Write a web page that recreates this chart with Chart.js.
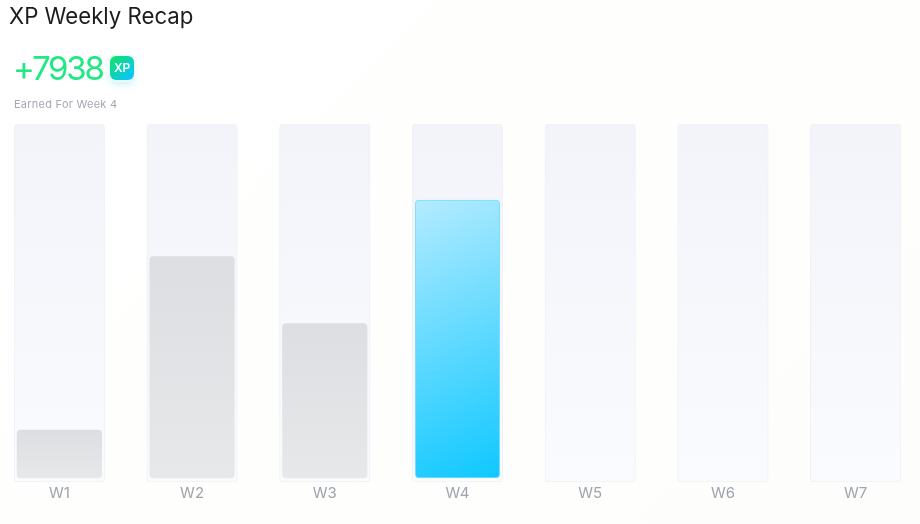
<!DOCTYPE html>
<html>
<head>
<meta charset="utf-8">
<title>XP Weekly Recap</title>
<script src="https://cdn.jsdelivr.net/npm/chart.js@4"></script>
<style>
  html, body { margin: 0; padding: 0; }
  body {
    width: 920px; height: 524px; position: relative; overflow: hidden;
    background: linear-gradient(135deg, #ffffff 0%, #fefefd 60%, #fdfefb 100%);
    font-family: Inter, "Noto Sans", sans-serif;
  }
  #title { position: absolute; left: 9px; top: 2px; font-size: 22.2px; line-height: 27px; color: #1b1c20; font-weight: 400; }
  #total { position: absolute; left: 13px; top: 48px; font-size: 33px; line-height: 40px; color: #1fe885; letter-spacing: -2.2px; font-weight: 400; }
  #badge {
    position: absolute; left: 110px; top: 56px; width: 24px; height: 24px; border-radius: 6px;
    background: linear-gradient(135deg, #12e070 10%, #08c4ff 90%); color: #fff;
    font-size: 12px; font-weight: 600; line-height: 24px; text-align: center; letter-spacing: -0.3px;
    box-shadow: 0 0 0 2px #ecfdfa, 0 4px 7px rgba(20, 200, 230, 0.25);
  }
  #sub { position: absolute; left: 14px; top: 97px; font-size: 11px; line-height: 14px; color: #a5a8b3; letter-spacing: 0.25px; }
  #wrap { position: absolute; left: -7px; top: 0; width: 929px; height: 524px; }
</style>
</head>
<body>
<div id="wrap"><canvas id="recap"></canvas></div>
<div id="title">XP Weekly Recap</div>
<div id="total">+7938</div>
<div id="badge">XP</div>
<div id="sub">Earned For Week 4</div>
<script>
const weeks = ['W1', 'W2', 'W3', 'W4', 'W5', 'W6', 'W7'];
const weekXp = [1370, 6320, 4410, 7938, null, null, null];
const trackLow = -114;
const trackHigh = 10108;
const currentWeek = 3;

// pale column behind every week
function trackFill(context) {
  const area = context.chart.chartArea;
  if (!area) return '#f7f8fd';
  const g = context.chart.ctx.createLinearGradient(0, area.top, 0, area.bottom);
  g.addColorStop(0, '#f3f4f9');
  g.addColorStop(1, '#fafbff');
  return g;
}

// grey for past weeks, blue for the current one
function barFill(context) {
  const chart = context.chart;
  const area = chart.chartArea;
  const value = context.raw;
  if (!area || value == null) return '#e0e1e4';
  const top = chart.scales.y.getPixelForValue(value);
  const bottom = chart.scales.y.getPixelForValue(0);
  if (context.dataIndex === currentWeek) {
    const x = chart.scales.x.getPixelForValue(context.dataIndex);
    const g = chart.ctx.createLinearGradient(x - 80, top, x + 40, bottom);
    g.addColorStop(0, '#bcedff');
    g.addColorStop(1, '#0fc8ff');
    return g;
  }
  const g = chart.ctx.createLinearGradient(0, top, 0, bottom);
  g.addColorStop(0, '#dddee1');
  g.addColorStop(1, '#e7e8ea');
  return g;
}

new Chart(document.getElementById('recap').getContext('2d'), {
  type: 'bar',
  data: {
    labels: weeks,
    datasets: [
      {
        label: 'XP',
        data: weekXp,
        grouped: false,
        order: 1,
        barThickness: 84.5,
        borderRadius: 4,
        borderSkipped: false,
        backgroundColor: barFill,
        borderWidth: function (context) { return context.dataIndex === currentWeek ? 1 : 0; },
        borderColor: '#7fdcff'
      },
      {
        label: 'Track',
        data: weeks.map(function () { return [trackLow, trackHigh]; }),
        grouped: false,
        order: 2,
        barThickness: 90.5,
        borderRadius: 4,
        borderSkipped: false,
        backgroundColor: trackFill,
        borderWidth: 1,
        borderColor: '#f0f0f6'
      }
    ]
  },
  options: {
    responsive: true,
    maintainAspectRatio: false,
    animation: false,
    layout: { padding: { top: 124 } },
    plugins: {
      legend: { display: false },
      title: { display: false },
      tooltip: { enabled: false }
    },
    scales: {
      x: {
        grid: { display: false, drawTicks: false },
        border: { display: false },
        ticks: { color: '#a0a3ae', font: { family: 'Inter', size: 15 }, padding: 2, maxRotation: 0 },
        afterFit: function (scale) { scale.height = 42; }
      },
      y: { display: false, min: trackLow, max: trackHigh }
    }
  }
});
</script>
</body>
</html>
